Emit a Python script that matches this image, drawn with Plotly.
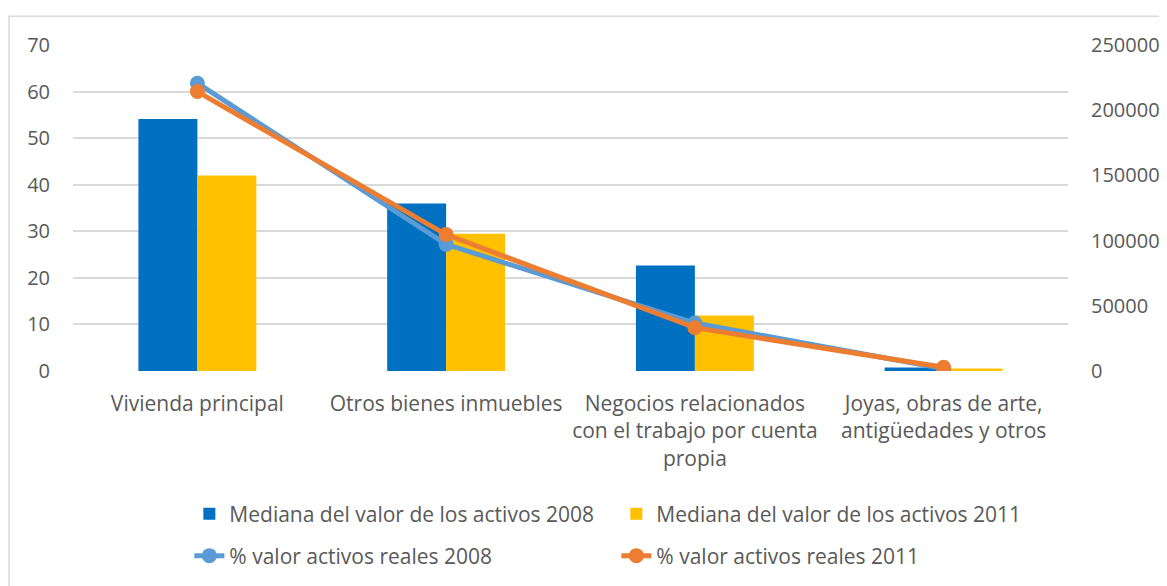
import plotly.graph_objects as go

categories = ["Vivienda principal", "Otros bienes inmuebles",
              "Negocios relacionados<br>con el trabajo por cuenta<br>propia",
              "Joyas, obras de arte,<br>antigüedades y otros"]
mediana_2008 = [193200, 128400, 81000, 2600]
mediana_2011 = [149900, 105300, 42600, 2000]
pct_2008 = [61.8, 27.2, 10.3, 0.5]
pct_2011 = [60.0, 29.3, 9.3, 0.8]

FONT = "Open Sans"
FS = 20
FS_TXT = 21
TXT = "#595959"
GRID = "#D9D9D9"

fig = go.Figure()
fig.add_trace(go.Bar(x=categories, y=mediana_2008, name="Mediana del valor de los activos 2008",
                     marker=dict(color="#0070C0", line=dict(width=0)), yaxis="y", legend="legend"))
fig.add_trace(go.Bar(x=categories, y=mediana_2011, name="Mediana del valor de los activos 2011",
                     marker=dict(color="#FFC000", line=dict(width=0)), yaxis="y", legend="legend"))
fig.add_trace(go.Scatter(x=categories, y=pct_2008, name="% valor activos reales 2008", mode="lines+markers",
                         line=dict(color="#5B9BD5", width=5), marker=dict(size=15, color="#5B9BD5"),
                         yaxis="y2", legend="legend2"))
fig.add_trace(go.Scatter(x=categories, y=pct_2011, name="% valor activos reales 2011", mode="lines+markers",
                         line=dict(color="#ED7D31", width=5), marker=dict(size=15, color="#ED7D31"),
                         yaxis="y2", legend="legend2"))

fig.update_layout(
    width=1167, height=586,
    margin=dict(l=64.5, r=106.5, t=36.7, b=223, autoexpand=False),
    paper_bgcolor="white", plot_bgcolor="white",
    font=dict(family=FONT, size=FS, color=TXT),
    barmode="group", bargap=0.526, bargroupgap=0,
    xaxis=dict(showgrid=False, showline=False, zeroline=False, ticks="",
               ticklabelstandoff=18, tickfont=dict(size=FS_TXT, color=TXT)),
    yaxis=dict(side="right", range=[0, 250000], dtick=50000, tickformat="d", showgrid=False,
               zeroline=False, showline=False, ticklabelstandoff=22,
               tickfont=dict(size=FS, color=TXT)),
    yaxis2=dict(side="left", overlaying="y", range=[0, 70], dtick=10, showgrid=True,
                gridcolor=GRID, gridwidth=1.5, zeroline=False, showline=False,
                ticklabelstandoff=22, tickfont=dict(size=FS, color=TXT)),
    legend=dict(orientation="h", xref="container", yref="container", x=0.1554,
                y=1 - (514 - 8) / 586, xanchor="left", yanchor="middle",
                entrywidth=382, entrywidthmode="pixels",
                font=dict(size=FS_TXT, color=TXT), bgcolor="rgba(0,0,0,0)"),
    legend2=dict(orientation="h", xref="container", yref="container", x=0.1554,
                 y=1 - (556 - 8) / 586, xanchor="left", yanchor="middle",
                 entrywidth=382, entrywidthmode="pixels",
                 font=dict(size=FS_TXT, color=TXT), bgcolor="rgba(0,0,0,0)"),
    shapes=[dict(type="rect", xref="paper", yref="paper", x0=-0.0643, x1=1.11, y0=-0.7, y1=1.088,
                 line=dict(color=GRID, width=1.5), layer="below")],
)

fig.write_html("out.html")
